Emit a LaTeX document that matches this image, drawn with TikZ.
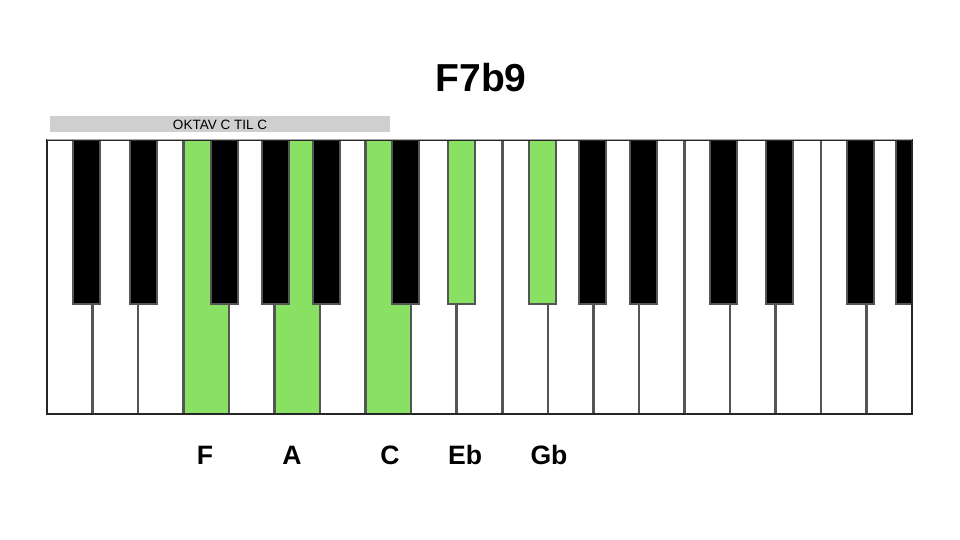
\documentclass[tikz,border=0pt]{standalone}
\usepackage{fontspec}
\setmainfont{Liberation Sans}
\definecolor{keygreen}{RGB}{136,225,98}
\definecolor{linegrey}{RGB}{85,85,85}
\definecolor{bargrey}{RGB}{207,207,207}
\begin{document}
\begin{tikzpicture}[x=1pt,y=1pt,
  whitekey/.style={fill=white},
  greenwhite/.style={fill=keygreen},
  blackkey/.style={fill=black,draw=linegrey,line width=2pt},
  greenblack/.style={fill=keygreen,draw=linegrey,line width=2pt},
  divider/.style={draw=linegrey,line width=2.5pt},
  notelabel/.style={font=\fontsize{26.6}{30}\selectfont\bfseries,anchor=base}]
\useasboundingbox (0,0) rectangle (960,540);
\fill[white] (0,0) rectangle (960,540);
% title
\node[font=\fontsize{39}{44}\selectfont\bfseries,anchor=base] (title) at (481,448) {F7b9};
% octave bar
\fill[bargrey] (50,408) rectangle (390,424);
\node[font=\fontsize{13.5}{15}\selectfont,anchor=base] (oktav) at (220,410) {OKTAV C TIL C};
% white keys
\pgfmathsetmacro{\ww}{(912-47)/19}
\foreach \i in {0,...,18}{
  \fill[whitekey] ({47+\i*\ww},126) rectangle ({47+(\i+1)*\ww},400);
}
\foreach \i in {3,5,7}{
  \fill[greenwhite] ({47+\i*\ww},126) rectangle ({47+(\i+1)*\ww},400);
}
\foreach \i in {1,...,18}{
  \draw[divider] ({47+\i*\ww},126) -- ({47+\i*\ww},400);
}
% black keys
\begin{scope}
\clip (47,120) rectangle (912,400);
\foreach \x in {73,130,211,262,313,392,579,630,710,766,847,896}{
  \draw[blackkey] (\x,236) rectangle (\x+27,402);
}
\foreach \x in {448,529}{
  \draw[greenblack] (\x,236) rectangle (\x+27,402);
}
\end{scope}
% outer border
\draw[draw=black!85,line width=2.2pt] (47,126) rectangle (912,400);
\draw[draw=black!35,line width=1pt] (47,400.8) -- (912,400.8);
% labels
\node[notelabel] (nF) at (205,75) {F};
\node[notelabel] (nA) at (292,75) {A};
\node[notelabel] (nC) at (390,75) {C};
\node[notelabel] (nEb) at (465,75) {Eb};
\node[notelabel] (nGb) at (549,75) {Gb};
\end{tikzpicture}
\end{document}
